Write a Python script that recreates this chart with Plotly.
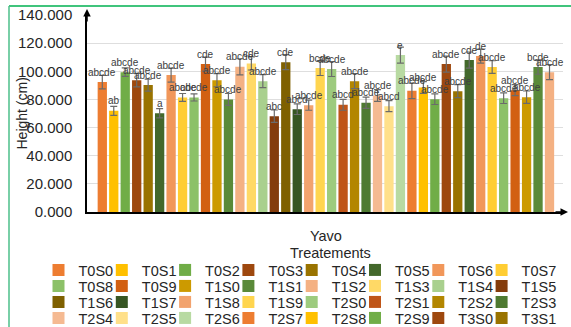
import plotly.graph_objects as go

# Plant height per treatment (cm), standard error and significance letters
treatments = [
    "T0S0", "T0S1", "T0S2", "T0S3", "T0S4", "T0S5", "T0S6", "T0S7", "T0S8", "T0S9",
    "T1S0", "T1S1", "T1S2", "T1S3", "T1S4", "T1S5", "T1S6", "T1S7", "T1S8", "T1S9",
    "T2S0", "T2S1", "T2S2", "T2S3", "T2S4", "T2S5", "T2S6", "T2S7", "T2S8", "T2S9",
    "T3S0", "T3S1", "T3S2", "T3S3", "T3S4", "T3S5", "T3S6", "T3S7", "T3S8", "T3S9",
]
heights = [
    92.3, 71.9, 99.4, 93.7, 90.2, 70.2, 97.3, 81.4, 81.4, 105.1,
    93.7, 80.0, 103.2, 105.6, 93.0, 68.1, 106.5, 73.1, 75.9, 102.3,
    101.6, 76.2, 93.0, 77.6, 82.8, 75.2, 111.5, 86.1, 88.5, 80.2,
    105.1, 85.9, 108.0, 110.8, 103.0, 80.9, 86.6, 81.6, 103.0, 99.4,
]
errors = [
    4.8, 3.2, 3.0, 4.8, 4.3, 3.3, 5.0, 2.8, 2.5, 5.0,
    4.7, 4.2, 5.7, 4.7, 4.6, 4.4, 5.3, 3.8, 3.6, 5.3,
    5.3, 3.9, 5.3, 4.0, 4.2, 3.9, 5.7, 5.5, 4.2, 3.8,
    5.7, 4.6, 5.7, 5.0, 4.5, 3.8, 3.9, 4.4, 5.1, 5.3,
]
letters = [
    "abcde", "ab", "abcde", "abcde", "abcde", "a", "abcde", "abcde", "abcde", "cde",
    "abcde", "abcde", "abcde", "cde", "abcde", "abc", "cde", "abcd", "abcde", "bcde",
    "abcde", "abcd", "abcde", "abcde", "abcde", "abcd", "e", "abcde", "abcde", "abcde",
    "abcde", "abcde", "cde", "de", "abcde", "abcde", "abcde", "abcde", "bcde", "abcde",
]
category = "Yavo"
legend_title = "Treatements"
y_ticks = [0, 20, 40, 60, 80, 100, 120, 140]

colors = [
    "#ED7D31", "#FFC000", "#70AD47", "#9E480E", "#997300", "#43682B", "#F1975A", "#FFCD33", "#8CC168", "#D26012",
    "#CC9A00", "#5A8A39", "#F4B183", "#FFD966", "#A9D08E", "#843C0C", "#7F6000", "#375623", "#F2A36E", "#FFD54F",
    "#9DCB7E", "#BF5518", "#B38600", "#4E7A31", "#F5BA92", "#FFE08A", "#B8DAA2", "#ED7D31", "#FFC000", "#70AD47",
    "#9E480E", "#997300", "#43682B", "#F1975A", "#FFCD33", "#8CC168", "#D26012", "#CC9A00", "#5A8A39", "#F4B183",
]

FONT = "Liberation Sans, Arial, sans-serif"
TEXT = "#262626"
W, H = 571, 327
M_L, M_R, M_T, M_B = 87, 8, 15, 115
PLOT_W, PLOT_H = W - M_L - M_R, H - M_T - M_B

# legend grid: eight entries per row, four rows fit inside the frame
PER_ROW = 8
ROWS_SHOWN = 4
LEGEND_LEFT = 38.5   # px, left edge of first column
COL_STEP = 63.3      # px between columns
ROW_TOP = 254        # px, top of first row
ROW_STEP = 16        # px between rows


def legend_id(k):
    return "legend" if k == 0 else f"legend{k + 1}"


def paper_x(px):
    return (px - M_L) / PLOT_W


def paper_y(py):
    return (H - M_B - py) / PLOT_H


n_legend = PER_ROW * ROWS_SHOWN

fig = go.Figure()
for i, (name, h, e) in enumerate(zip(treatments, heights, errors)):
    fig.add_trace(go.Bar(
        x=[i], y=[h], name=name, width=0.81,
        marker=dict(color=colors[i], line=dict(width=0)),
        error_y=dict(type="data", array=[e], color="#6b6b6b", thickness=1.2, width=3.5),
        showlegend=i < n_legend,
        legend=legend_id(min(i, n_legend - 1)),
        hovertemplate=f"{name}: %{{y:.1f}} cm<extra></extra>",
    ))
    fig.add_annotation(
        x=i, y=h, text=letters[i], showarrow=False, yanchor="middle", yshift=10,
        font=dict(family=FONT, size=10, color="#404040"),
    )

# axis title placed by hand, overlapping the tick labels as in the workbook export
fig.add_annotation(
    xref="paper", yref="paper", x=paper_x(21), y=0.5, text="Height (cm)", textangle=-90,
    showarrow=False, xanchor="center", yanchor="middle",
    font=dict(family=FONT, size=14, color=TEXT),
)
# legend heading
fig.add_annotation(
    xref="paper", yref="paper", x=paper_x(330), y=paper_y(253), text=legend_title, showarrow=False,
    xanchor="center", yanchor="middle", font=dict(family=FONT, size=14.5, color=TEXT),
)
# arrow heads on both axes
fig.add_annotation(xref="paper", yref="paper", x=0, y=paper_y(9), ax=0, ay=14, text="",
                   showarrow=True, arrowhead=2, arrowsize=1, arrowwidth=1.5, arrowcolor="black")
fig.add_annotation(xref="paper", yref="paper", x=paper_x(568), y=0, ax=-14, ay=0, text="",
                   showarrow=True, arrowhead=2, arrowsize=1, arrowwidth=1.5, arrowcolor="black")

# green frame around the chart
fig.add_shape(type="line", xref="paper", yref="paper", x0=paper_x(9), x1=paper_x(575),
              y0=paper_y(6), y1=paper_y(6), line=dict(color="#00B050", width=1.5))
fig.add_shape(type="line", xref="paper", yref="paper", x0=paper_x(9), x1=paper_x(9),
              y0=paper_y(6), y1=paper_y(330), line=dict(color="#4dbf8a", width=1.5))

# one small legend box per entry so the grid spacing can follow the workbook layout
legends = {}
for k in range(n_legend):
    row, col = divmod(k, PER_ROW)
    legends[legend_id(k)] = dict(
        orientation="h", xref="paper", yref="paper",
        x=paper_x(LEGEND_LEFT + col * COL_STEP), y=paper_y(ROW_TOP + row * ROW_STEP),
        xanchor="left", yanchor="top",
        bgcolor="rgba(0,0,0,0)", borderwidth=0,
        font=dict(family=FONT, size=14.5, color=TEXT),
        itemclick=False, itemdoubleclick=False,
    )

n = len(treatments)
fig.update_layout(
    width=W, height=H,
    margin=dict(l=M_L, r=M_R, t=M_T, b=M_B, autoexpand=False),
    plot_bgcolor="white", paper_bgcolor="white",
    barmode="overlay",
    font=dict(family=FONT, color=TEXT),
    showlegend=True,
    xaxis=dict(
        range=[-1.334, n - 1 + 1.177], tickvals=[(n - 1) / 2], ticktext=[category],
        showline=True, linecolor="black", linewidth=1.5, showgrid=False, zeroline=False,
        ticks="outside", ticklen=10, tickcolor="rgba(0,0,0,0)",
        tickfont=dict(family=FONT, size=14.5, color=TEXT),
    ),
    yaxis=dict(
        range=[0, 140], tickvals=y_ticks, tickformat=".3f",
        showline=True, linecolor="black", linewidth=1.5,
        showgrid=True, gridcolor="#dedede", gridwidth=1, zeroline=False,
        ticks="outside", ticklen=10, tickcolor="rgba(0,0,0,0)",
        tickfont=dict(family=FONT, size=15, color=TEXT),
    ),
    **legends,
)

fig.write_html("out.html")
